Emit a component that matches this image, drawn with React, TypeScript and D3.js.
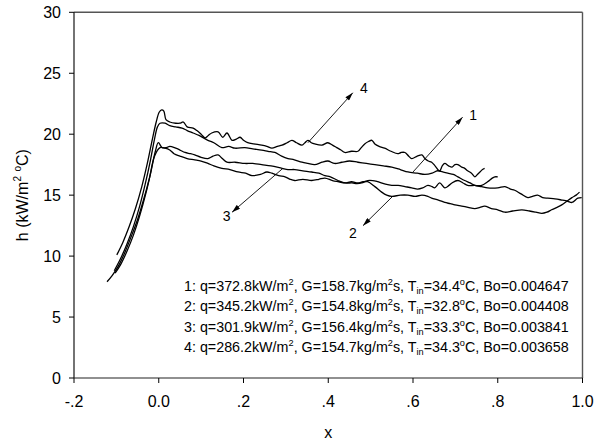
import React from "react";
import * as d3 from "d3";

type Pt = [number, number];

const xTicks = [-0.2, 0, 0.2, 0.4, 0.6, 0.8, 1.0];
const xTickLabels = ["-.2", "0.0", ".2", ".4", ".6", ".8", "1.0"];
const yTicks = [0, 5, 10, 15, 20, 25, 30];

// Curve 1 (second from top)
const curve1: Pt[] = [
  [-0.105, 8.8], [-0.09, 9.8], [-0.075, 11.0], [-0.06, 12.4], [-0.045, 14.1], [-0.032, 15.9],
  [-0.02, 17.8], [-0.01, 19.6], [-0.003, 20.6], [0.003, 20.9], [0.015, 20.9], [0.026, 20.7],
  [0.04, 20.6], [0.055, 20.5], [0.067, 20.3], [0.081, 20.1], [0.095, 19.9], [0.116, 19.5],
  [0.13, 19.3], [0.149, 18.9], [0.165, 19.0], [0.18, 18.85], [0.203, 18.9], [0.222, 18.8],
  [0.243, 18.7], [0.258, 18.6], [0.274, 18.5], [0.29, 18.2], [0.305, 18.0], [0.32, 17.9],
  [0.338, 17.7], [0.352, 17.6], [0.368, 17.5], [0.385, 17.7], [0.399, 17.8], [0.415, 17.6],
  [0.432, 17.7], [0.45, 17.8], [0.47, 17.7], [0.49, 17.6], [0.51, 17.5], [0.53, 17.4],
  [0.55, 17.3], [0.57, 17.1], [0.588, 16.9], [0.61, 16.8], [0.628, 16.7], [0.645, 16.8],
  [0.658, 17.0], [0.67, 16.9], [0.682, 16.8], [0.695, 16.7], [0.706, 16.5], [0.722, 16.2],
  [0.735, 16.0], [0.746, 15.8], [0.762, 15.7], [0.776, 15.6], [0.8, 15.6], [0.817, 15.7],
  [0.83, 15.5], [0.84, 15.4], [0.855, 15.1], [0.871, 14.8], [0.882, 14.9], [0.894, 15.0],
  [0.906, 14.8], [0.918, 14.75], [0.935, 14.7], [0.951, 14.6], [0.965, 14.5], [0.975, 14.4],
  [0.989, 14.75], [0.998, 14.8],
];

// Curve 2 (lowest, ends at x = 1.0 rising)
const curve2: Pt[] = [
  [-0.122, 7.9], [-0.11, 8.4], [-0.095, 9.2], [-0.08, 10.3], [-0.065, 11.6], [-0.05, 13.0],
  [-0.036, 14.6], [-0.022, 16.4], [-0.01, 18.2], [0.003, 18.9], [0.015, 18.85], [0.026, 18.7],
  [0.036, 18.4], [0.05, 18.2], [0.067, 18.0], [0.085, 17.9], [0.1, 17.8], [0.116, 17.6],
  [0.13, 17.4], [0.149, 17.2], [0.168, 17.1], [0.187, 16.9], [0.205, 16.8], [0.22, 16.6],
  [0.24, 16.7], [0.255, 16.9], [0.267, 16.8], [0.283, 16.6], [0.298, 16.5], [0.31, 16.3],
  [0.321, 16.2], [0.34, 16.3], [0.361, 16.2], [0.378, 16.3], [0.392, 16.4], [0.41, 16.2],
  [0.425, 16.1], [0.439, 16.0], [0.455, 16.1], [0.47, 16.0], [0.482, 16.1], [0.493, 16.1],
  [0.51, 15.7], [0.526, 15.25], [0.538, 15.0], [0.55, 14.9], [0.57, 15.0], [0.588, 15.0],
  [0.605, 14.9], [0.621, 15.0], [0.635, 14.9], [0.644, 14.75], [0.66, 14.6], [0.675, 14.4],
  [0.688, 14.3], [0.699, 14.2], [0.715, 14.1], [0.73, 14.0], [0.746, 13.9], [0.758, 14.0],
  [0.769, 14.1], [0.785, 13.9], [0.8, 13.8], [0.817, 13.6], [0.835, 13.7], [0.857, 13.8],
  [0.875, 13.7], [0.89, 13.6], [0.904, 13.5], [0.916, 13.6], [0.927, 13.8], [0.94, 14.0],
  [0.951, 14.2], [0.963, 14.5], [0.975, 14.8], [0.985, 15.0], [0.993, 15.25],
];

// Curve 3 (ends near x = 0.8)
const curve3: Pt[] = [
  [-0.103, 8.6], [-0.09, 9.3], [-0.075, 10.4], [-0.06, 11.7], [-0.045, 13.3], [-0.03, 15.2],
  [-0.018, 17.0], [-0.008, 18.6], [-0.001, 19.3], [0.008, 18.9], [0.018, 18.9], [0.026, 19.0],
  [0.04, 18.85], [0.05, 18.7], [0.062, 18.5], [0.075, 18.4], [0.085, 18.3], [0.1, 18.1],
  [0.116, 18.0], [0.128, 18.2], [0.14, 18.3], [0.15, 18.0], [0.161, 17.7], [0.18, 17.7],
  [0.203, 17.6], [0.222, 17.6], [0.243, 17.5], [0.265, 17.4], [0.291, 17.2], [0.305, 17.1],
  [0.321, 17.1], [0.34, 17.0], [0.361, 16.9], [0.378, 16.8], [0.392, 16.6], [0.405, 16.5],
  [0.423, 16.2], [0.44, 16.0], [0.456, 16.0], [0.468, 15.95], [0.479, 16.0], [0.493, 16.2],
  [0.505, 16.2], [0.517, 16.1], [0.535, 15.9], [0.55, 15.8], [0.565, 15.8], [0.581, 15.7],
  [0.597, 15.6], [0.611, 15.5], [0.623, 15.6], [0.635, 15.8], [0.645, 15.7], [0.651, 15.6],
  [0.663, 16.0], [0.675, 15.6], [0.685, 15.8], [0.692, 16.0], [0.706, 16.2], [0.718, 16.0],
  [0.729, 15.8], [0.745, 15.8], [0.762, 15.8], [0.776, 16.1], [0.787, 16.4], [0.793, 16.5],
  [0.8, 16.5],
];

// Curve 4 (top, ends near x = 0.77)
const curve4: Pt[] = [
  [-0.099, 10.1], [-0.085, 11.1], [-0.07, 12.4], [-0.055, 13.9], [-0.04, 15.7], [-0.027, 17.6],
  [-0.015, 19.6], [-0.006, 21.0], [0.001, 21.8], [0.007, 22.0], [0.012, 21.9], [0.017, 21.2],
  [0.026, 21.0], [0.04, 20.9], [0.05, 20.9], [0.058, 21.0], [0.067, 20.6], [0.081, 20.5],
  [0.09, 20.3], [0.1, 20.0], [0.109, 19.7], [0.117, 19.9], [0.125, 20.1], [0.14, 20.2],
  [0.151, 19.75], [0.161, 20.1], [0.173, 19.5], [0.183, 19.6], [0.192, 19.75], [0.2, 19.5],
  [0.21, 19.3], [0.225, 19.2], [0.243, 19.1], [0.255, 19.0], [0.267, 18.85], [0.28, 19.0],
  [0.291, 19.1], [0.303, 19.3], [0.314, 19.5], [0.325, 19.3], [0.338, 19.1], [0.345, 19.3],
  [0.352, 19.5], [0.36, 19.3], [0.368, 19.2], [0.385, 19.1], [0.399, 19.3], [0.41, 19.1],
  [0.42, 18.9], [0.43, 18.7], [0.439, 18.5], [0.455, 18.6], [0.47, 18.6], [0.478, 18.9],
  [0.486, 19.2], [0.495, 19.4], [0.503, 19.5], [0.51, 19.2], [0.52, 19.0], [0.533, 18.85],
  [0.548, 18.6], [0.564, 18.4], [0.572, 18.5], [0.581, 18.5], [0.59, 18.2], [0.597, 18.0],
  [0.61, 18.2], [0.621, 18.3], [0.628, 18.0], [0.636, 17.8], [0.644, 17.7], [0.652, 17.4],
  [0.663, 17.0], [0.669, 17.4], [0.675, 17.6], [0.684, 17.4], [0.692, 17.3], [0.699, 17.5],
  [0.706, 17.5], [0.715, 17.3], [0.722, 17.2], [0.729, 17.0], [0.738, 16.8], [0.746, 16.5],
  [0.752, 16.7], [0.758, 16.9], [0.764, 17.1], [0.769, 17.2],
];

const curves = [curve1, curve2, curve3, curve4];

// Annotation arrows: tail on the curve, head near the label
const arrowIds = ["1", "2", "3", "4"];
const arrowTail: Pt[] = [[0.6, 16.9], [0.552, 14.9], [0.293, 17.2], [0.352, 19.3]];
const arrowHead: Pt[] = [[0.717, 21.4], [0.482, 12.5], [0.173, 13.6], [0.458, 23.4]];
const arrowLabelPos: Pt[] = [[0.742, 21.6], [0.458, 11.9], [0.16, 13.3], [0.484, 23.8]];

// Legend entries
const legendQ = ["372.8", "345.2", "301.9", "286.2"];
const legendG = ["158.7", "154.8", "156.4", "154.7"];
const legendT = ["34.4", "32.8", "33.3", "34.3"];
const legendBo = ["0.004647", "0.004408", "0.003841", "0.003658"];

const W = 594;
const H = 444;
const M = { left: 74, right: 582.5, top: 12.3, bottom: 378 };
const FONT = "'Liberation Sans', Arial, Helvetica, sans-serif";

export default function App() {
  const x = d3.scaleLinear().domain([-0.2, 1.0]).range([M.left, M.right]);
  const y = d3.scaleLinear().domain([0, 30]).range([M.bottom, M.top]);
  const line = d3
    .line<Pt>()
    .x((d) => x(d[0]))
    .y((d) => y(d[1]))
    .curve(d3.curveCatmullRom.alpha(0.5));

  const legendX = 184;
  const legendY0 = 291;
  const legendDy = 20.4;
  const lf = 14.3;
  const sf = 9.2;

  return (
    <svg
      width={W}
      height={H}
      style={{ position: "absolute", left: 0, top: 0, background: "#fff" }}
      fontFamily={FONT}
    >
      <defs>
        <marker
          id="ah"
          viewBox="0 0 10 6"
          refX="10"
          refY="3"
          markerWidth="9"
          markerHeight="5"
          markerUnits="userSpaceOnUse"
          orient="auto"
        >
          <path d="M0,0 L10,3 L0,6 Z" fill="#000" />
        </marker>
      </defs>
      <rect x={0} y={0} width={W} height={H} fill="#fff" />

      {/* frame top & right */}
      <line x1={M.left} x2={M.right} y1={M.top} y2={M.top} stroke="#555" strokeWidth={1.4} />
      <line x1={M.right} x2={M.right} y1={M.top} y2={M.bottom} stroke="#555" strokeWidth={1.4} />
      {/* axes */}
      <line x1={M.left} x2={M.left} y1={M.top} y2={M.bottom} stroke="#000" strokeWidth={1.1} />
      <line x1={M.left} x2={M.right} y1={M.bottom} y2={M.bottom} stroke="#222" strokeWidth={1.2} />

      {yTicks.map((t) => (
        <g key={"y" + t}>
          <line x1={M.left - 5} x2={M.left} y1={y(t)} y2={y(t)} stroke="#000" strokeWidth={1} />
          <text
            x={M.left - 13}
            y={y(t)}
            dy="0.36em"
            textAnchor="end"
            fontSize={16}
            fill="#000"
          >
            {t}
          </text>
        </g>
      ))}
      {xTicks.map((t, i) => (
        <g key={"x" + t}>
          <line x1={x(t)} x2={x(t)} y1={M.bottom} y2={M.bottom + 5} stroke="#000" strokeWidth={1} />
          <text x={x(t)} y={407} textAnchor="middle" fontSize={16} fill="#000">
            {xTickLabels[i]}
          </text>
        </g>
      ))}

      <text x={(M.left + M.right) / 2} y={438} textAnchor="middle" fontSize={16} fill="#000">
        x
      </text>
      <text
        transform={`translate(28,${(M.top + M.bottom) / 2}) rotate(-90)`}
        textAnchor="middle"
        fontSize={16}
        fill="#000"
      >
        h (kW/m
        <tspan fontSize={10} dy={-7}>2</tspan>
        <tspan fontSize={16} dy={7}> </tspan>
        <tspan fontSize={10} dy={-7}>o</tspan>
        <tspan fontSize={16} dy={7}>C)</tspan>
      </text>

      {curves.map((c, i) => (
        <path key={"c" + i} d={line(c) || ""} fill="none" stroke="#000" strokeWidth={1.3} strokeLinejoin="round" />
      ))}

      {arrowIds.map((id, i) => (
        <g key={"a" + id}>
          <line
            x1={x(arrowTail[i][0])}
            y1={y(arrowTail[i][1])}
            x2={x(arrowHead[i][0])}
            y2={y(arrowHead[i][1])}
            stroke="#000"
            strokeWidth={0.9}
            markerEnd="url(#ah)"
          />
          <text
            x={x(arrowLabelPos[i][0])}
            y={y(arrowLabelPos[i][1])}
            dy="0.36em"
            textAnchor="middle"
            fontSize={14}
            fill="#000"
          >
            {id}
          </text>
        </g>
      ))}

      {legendQ.map((q, i) => (
        <text key={"l" + i} x={legendX} y={legendY0 + i * legendDy} fontSize={lf} fill="#000">
          {`${i + 1}: q=${q}kW/m`}
          <tspan fontSize={sf} dy={-6}>2</tspan>
          <tspan fontSize={lf} dy={6}>{`, G=${legendG[i]}kg/m`}</tspan>
          <tspan fontSize={sf} dy={-6}>2</tspan>
          <tspan fontSize={lf} dy={6}>{"s, T"}</tspan>
          <tspan fontSize={sf} dy={3}>in</tspan>
          <tspan fontSize={lf} dy={-3}>{`=${legendT[i]}`}</tspan>
          <tspan fontSize={sf} dy={-6}>o</tspan>
          <tspan fontSize={lf} dy={6}>{`C, Bo=${legendBo[i]}`}</tspan>
        </text>
      ))}
    </svg>
  );
}
